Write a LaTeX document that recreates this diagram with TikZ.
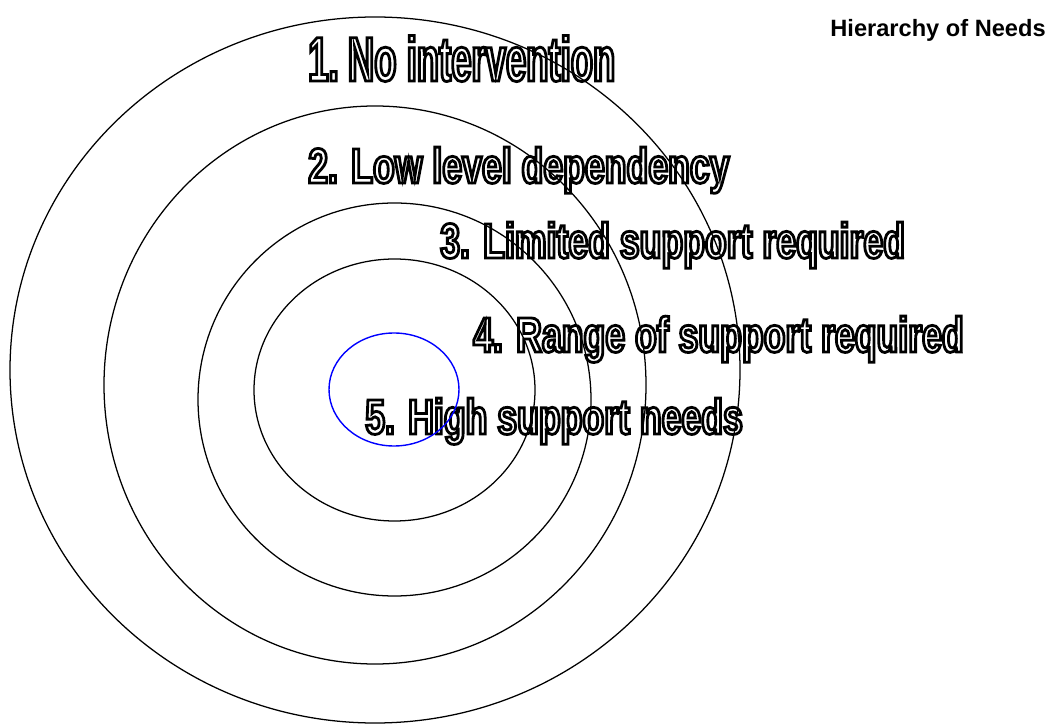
\documentclass[tikz,border=0pt]{standalone}
\usepackage{fontspec}
\setmainfont{Liberation Sans}
\newfontfamily\ringfont[FakeStretch=0.72]{Liberation Sans}
\newfontfamily\topfont[FakeStretch=0.58]{Liberation Sans}

% outlined lettering: white glyphs with a black stroke round them
\newcommand{\hollow}[1]{\special{pdf:literal direct 1 g 0 G 2 Tr 2 w}#1\special{pdf:literal direct 0 Tr 0 g}}

\tikzset{
  ring/.style={draw=black, line width=.9pt},
  core/.style={draw=blue, line width=1pt},
  lbl/.style={inner sep=0pt, anchor=base west},
}

\begin{document}
\begin{tikzpicture}[x=.025cm, y=.025cm]
\useasboundingbox (0,0) rectangle (1051,724);

\node[anchor=base east, inner sep=0pt, font=\bfseries\fontsize{16.8}{20}\selectfont]
    (title) at (1046,687) {Hierarchy of Needs};

\node[lbl, font=\topfont\bfseries\fontsize{44.7}{50}\selectfont] (one) at (308,643) {\hollow{1.\kern-3pt{} No intervention}};
\node[lbl, font=\ringfont\bfseries\fontsize{35.2}{40}\selectfont] (two) at (308,541) {\hollow{2. Low level dependency}};
\node[lbl, font=\ringfont\bfseries\fontsize{35.2}{40}\selectfont] (three) at (440,466) {\hollow{3. Limited support required}};
\node[lbl, font=\ringfont\bfseries\fontsize{35.2}{40}\selectfont] (four) at (473,372) {\hollow{4. Range of support required}};
\node[lbl, font=\ringfont\bfseries\fontsize{35.2}{40}\selectfont] (five) at (365,290) {\hollow{5. High support needs}};

% rings, outside in
\draw[ring] (375,354) ellipse (365 and 353);
\draw[ring] (375,339) ellipse (271 and 279);
\draw[ring] (394.5,324.5) ellipse (196.5 and 196.5);
\draw[ring] (394.5,334) ellipse (140.5 and 131);
\draw[core] (394,334.5) ellipse (65 and 56.5);

\end{tikzpicture}
\end{document}
